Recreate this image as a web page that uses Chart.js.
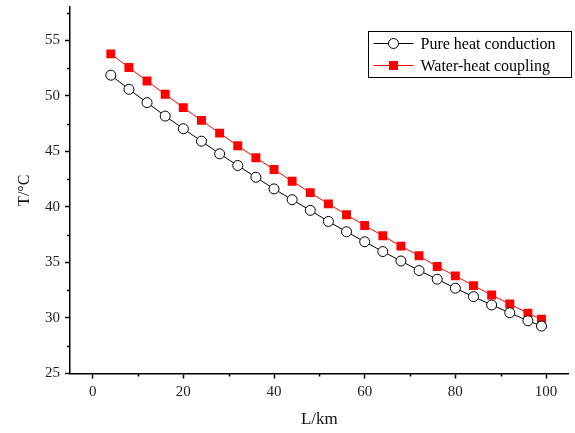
<!DOCTYPE html>
<html>
<head>
<meta charset="utf-8">
<script src="https://cdn.jsdelivr.net/npm/chart.js@4"></script>
<style>
  html, body { margin: 0; padding: 0; background: #fff; }
  #wrap { width: 575px; height: 433px; }
</style>
</head>
<body>
<div id="wrap"><canvas id="chart1"></canvas></div>
<script>
// distance along the profile, km
var distance = [4, 8, 12, 16, 20, 24, 28, 32, 36, 40, 44, 48, 52, 56, 60, 64, 68, 72, 76, 80, 84, 88, 92, 96, 99];
var pureConduction = [51.86, 50.59, 49.39, 48.18, 47.04, 45.92, 44.78, 43.73, 42.67, 41.62, 40.65, 39.69, 38.69,
  37.76, 36.86, 35.98, 35.13, 34.27, 33.49, 32.68, 31.92, 31.17, 30.47, 29.75, 29.27];
var waterHeat = [53.78, 52.55, 51.34, 50.14, 48.94, 47.79, 46.64, 45.50, 44.42, 43.37, 42.31, 41.29, 40.27,
  39.30, 38.33, 37.40, 36.47, 35.60, 34.63, 33.79, 32.91, 32.07, 31.26, 30.42, 29.88];
var xTicks = [0, 20, 40, 60, 80, 100];
var yTicks = [25, 30, 35, 40, 45, 50, 55];
var xMinor = [10, 30, 50, 70, 90];
var yMinor = [27.5, 32.5, 37.5, 42.5, 47.5, 52.5, 57.5];

function pts(xs, ys) {
  return xs.map(function (x, i) { return { x: x, y: ys[i] }; });
}

var serif = "'Liberation Serif', 'Times New Roman', serif";

// minor ticks, drawn outside the axes
var minorTicks = {
  id: 'minorTicks',
  afterDraw: function (chart) {
    var c = chart.ctx, xs = chart.scales.x, ys = chart.scales.y;
    var a = chart.chartArea;
    c.save();
    c.strokeStyle = '#000';
    c.lineWidth = 1.5;
    c.beginPath();
    xMinor.forEach(function (v) {
      var px = Math.round(xs.getPixelForValue(v)) + 0.5;
      c.moveTo(px, a.bottom); c.lineTo(px, a.bottom + 3);
    });
    yMinor.forEach(function (v) {
      var py = Math.round(ys.getPixelForValue(v)) + 0.5;
      c.moveTo(a.left, py); c.lineTo(a.left - 3, py);
    });
    c.stroke();
    c.restore();
  }
};

// boxed legend in the top-right corner
var boxLegend = {
  id: 'boxLegend',
  afterDraw: function (chart) {
    var c = chart.ctx;
    var x0 = 368.5, y0 = 31.5, w = 203, h = 46;
    c.save();
    c.strokeStyle = '#000';
    c.lineWidth = 1;
    c.strokeRect(x0, y0, w, h);
    c.font = '16px ' + serif;
    c.textBaseline = 'middle';
    chart.data.datasets.forEach(function (ds, i) {
      var yy = y0 + 12 + i * 22;
      c.strokeStyle = ds.borderColor;
      c.lineWidth = 1;
      c.beginPath();
      c.moveTo(x0 + 5, yy); c.lineTo(x0 + 45, yy);
      c.stroke();
      if (ds.pointStyle === 'rect') {
        c.fillStyle = ds.pointBackgroundColor;
        c.fillRect(x0 + 25 - 4.5, yy - 4.5, 9, 9);
      } else {
        c.fillStyle = '#fff';
        c.strokeStyle = ds.pointBorderColor;
        c.beginPath();
        c.arc(x0 + 25, yy, 5, 0, Math.PI * 2);
        c.fill(); c.stroke();
      }
      c.fillStyle = '#000';
      c.fillText(ds.label, x0 + 52, yy + 1);
    });
    c.restore();
  }
};

var ctx1 = document.getElementById('chart1').getContext('2d');
var chart1 = new Chart(ctx1, {
  type: 'line',
  data: {
    datasets: [{
      label: 'Pure heat conduction',
      data: pts(distance, pureConduction),
      borderColor: '#000',
      borderWidth: 1,
      pointStyle: 'circle',
      pointRadius: 5,
      pointBorderWidth: 1,
      pointBackgroundColor: '#fff',
      pointBorderColor: '#000',
      tension: 0
    }, {
      label: 'Water-heat coupling',
      data: pts(distance, waterHeat),
      borderColor: '#ff0000',
      borderWidth: 1,
      pointStyle: 'rect',
      pointRadius: 6.3,
      pointBorderWidth: 0,
      pointBackgroundColor: '#ff0000',
      pointBorderColor: '#ff0000',
      tension: 0
    }]
  },
  options: {
    responsive: true,
    maintainAspectRatio: false,
    animation: false,
    layout: { padding: { top: 7, right: 3, left: 0, bottom: 0 } },
    plugins: {
      legend: { display: false },
      tooltip: { enabled: false }
    },
    scales: {
      x: {
        type: 'linear',
        min: -5,
        max: 105,
        afterBuildTicks: function (s) { s.ticks = xTicks.map(function (v) { return { value: v }; }); },
        afterFit: function (s) { s.height = 59.5; s.paddingLeft = 0; s.paddingRight = 0; },
        border: { display: true, color: '#000', width: 1.5 },
        grid: { drawOnChartArea: false, drawTicks: true, tickLength: 5, color: '#000', tickWidth: 1.5 },
        ticks: { color: '#222', font: { family: serif, size: 15 }, padding: 5, maxRotation: 0 },
        title: { display: true, text: 'L/km', color: '#111', font: { family: serif, size: 17 }, padding: { top: 4, bottom: 3 } }
      },
      y: {
        min: 25,
        max: 58,
        afterBuildTicks: function (s) { s.ticks = yTicks.map(function (v) { return { value: v }; }); },
        afterFit: function (s) { s.width = 70; s.paddingTop = 0; s.paddingBottom = 0; },
        border: { display: true, color: '#000', width: 1.5 },
        grid: { drawOnChartArea: false, drawTicks: true, tickLength: 5, color: '#000', tickWidth: 1.5 },
        ticks: { color: '#222', font: { family: serif, size: 15 }, padding: 5 },
        title: { display: true, text: 'T/°C', color: '#111', font: { family: serif, size: 16 }, padding: { top: 15, bottom: 4 } }
      }
    }
  },
  plugins: [minorTicks, boxLegend]
});
</script>
</body>
</html>
